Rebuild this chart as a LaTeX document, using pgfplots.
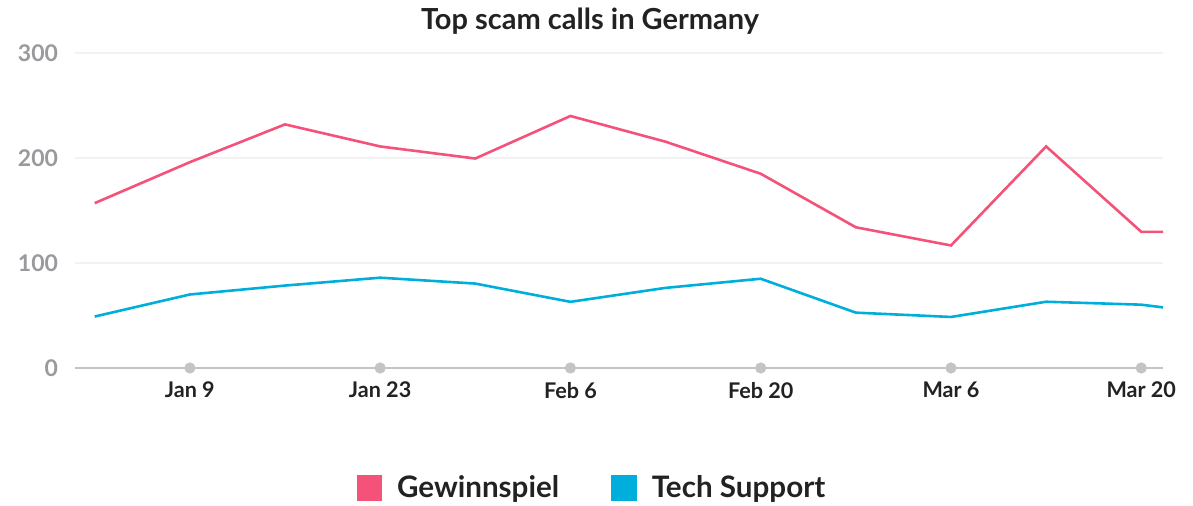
\documentclass[border=0pt]{standalone}
\usepackage{pgfplots}
\pgfplotsset{compat=1.18}
\usepackage{pgfplotstable}
\usepackage{fontspec}
\setmainfont{Lato}
\definecolor{gw}{HTML}{F5527A}
\definecolor{ts}{HTML}{00AEDB}
\definecolor{ylab}{HTML}{9A9A9E}
\definecolor{xlab}{HTML}{222222}
\definecolor{axl}{HTML}{C4C4C6}
\pgfplotstableread{
day gew tech
2    157 49
9    196 70
16   232 78.5
23   211 86
30   199.5 80.4
37   240 63
44   215.5 76.3
51   185 85
58   134 52.7
65   116.7 48.6
72   211 63.1
79   129.7 60.3
80.6 129.7 57.7
}\datatable
\begin{document}
\begin{tikzpicture}
\useasboundingbox (0pt,0pt) rectangle (596.5pt,253pt);
\node[font=\bfseries\fontsize{14.5}{17}\selectfont, text=xlab] at (295pt,242.5pt) {Top scam calls in Germany};
\begin{axis}[
  at={(37.5pt,69pt)}, anchor=south west,
  scale only axis, width=544pt, height=157.5pt,
  xmin=0.55, xmax=80.6, ymin=0, ymax=300,
  axis lines=left,
  x axis line style={draw=axl, line width=0.8pt, -},
  y axis line style={draw=none},
  major tick length=0pt,
  ytick={0,100,200,300},
  xtick={9,23,37,51,65,79},
  xticklabels={Jan 9,Jan 23,Feb 6,Feb 20,Mar 6,Mar 20},
  ymajorgrids, grid style={draw=black!5, line width=0.6pt},
  /pgf/number format/assume math mode=true,
  yticklabel style={font=\bfseries\fontsize{11.5}{13}\selectfont, text=ylab, xshift=-5pt},
  xticklabel style={font=\bfseries\fontsize{10.8}{12}\selectfont, text=xlab, yshift=-3.5pt},
  clip=false,
  legend style={at={(0.476,-0.381)}, anchor=center, draw=none, fill=none,
    legend columns=2, font=\bfseries\fontsize{14.8}{17}\selectfont, text=xlab,
    /tikz/every even column/.append style={column sep=24pt},
    legend cell align=left},
  legend image code/.code={\fill[#1] (0pt,-5.75pt) rectangle (11.5pt,5.75pt); \path (17pt,0pt);},
]
\addplot[only marks, mark=*, mark size=2.6pt, color=axl, forget plot] coordinates {(9,0)(23,0)(37,0)(51,0)(65,0)(79,0)};
\addplot[gw, line width=1.3pt] table[x=day,y=gew] {\datatable};
\addlegendentry{Gewinnspiel}
\addplot[ts, line width=1.3pt] table[x=day,y=tech] {\datatable};
\addlegendentry{Tech Support}
\end{axis}
\end{tikzpicture}
\end{document}
